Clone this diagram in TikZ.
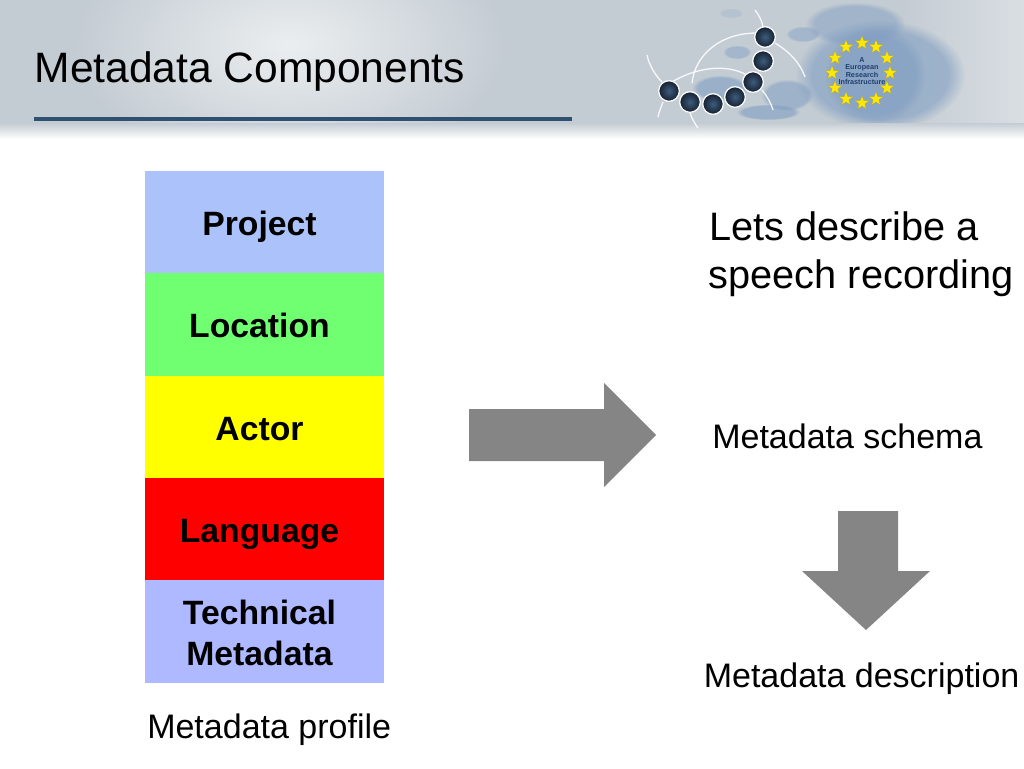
\documentclass[tikz,border=0pt]{standalone}
\usepackage{fontspec}
\setmainfont{Liberation Sans}
\usetikzlibrary{shapes.geometric,fadings}
\definecolor{hbase}{HTML}{C4CCD3}
\definecolor{hlight}{HTML}{EBEEF0}
\definecolor{rulecol}{HTML}{2F5070}
\definecolor{ballcol}{HTML}{3E5C7E}
\definecolor{balldark}{HTML}{15202E}
\definecolor{mapcol}{HTML}{7F9DC2}
\definecolor{arrowcol}{HTML}{858585}
\definecolor{startext}{HTML}{1F3F6E}
\definecolor{bandproject}{HTML}{ACC2FB}
\definecolor{bandlocation}{HTML}{70FF70}
\definecolor{bandactor}{HTML}{FFFF00}
\definecolor{bandlanguage}{HTML}{FF0000}
\definecolor{bandtech}{HTML}{AFB9FF}
\tikzset{
  x=0.75pt,y=-0.75pt,
  band/.style={fill=#1,draw=none,minimum width=179.25pt,minimum height=77pt,inner sep=0pt,outer sep=0pt},
  lab/.style={anchor=base,inner sep=0pt,font=\fontsize{25.3}{30}\selectfont\bfseries},
  txt/.style={anchor=base west,inner sep=0pt,font=\fontsize{25.5}{30}\selectfont},
  big/.style={anchor=base west,inner sep=0pt,font=\fontsize{29.8}{36}\selectfont},
  blockarrow/.style={fill=arrowcol,draw=none},
  eustar/.style={star,star points=5,star point ratio=2.4,fill=yellow!90!orange,draw=yellow!60!black,line width=0.2pt,minimum size=11pt,inner sep=0pt},
  ball/.style={circle,minimum size=15.5pt,inner sep=0pt,draw=white!85!hbase,line width=1pt,inner color=ballcol,outer color=balldark},
  arcline/.style={draw=white,line width=1pt,opacity=0.85},
  maptext/.style={inner sep=0pt,text=startext,font=\fontsize{5.4}{6}\selectfont\bfseries},
  land/.style={fill=mapcol,draw=none,opacity=#1,path fading=circle with fuzzy edge 20 percent}
}
\begin{document}
\begin{tikzpicture}
\useasboundingbox (0,0) rectangle (1024,768);
\fill[white] (0,0) rectangle (1024,768);
% header
\fill[hbase] (0,0) rectangle (1024,123);
\begin{scope}
\clip (0,0) rectangle (1024,123);
\shade[inner color=hlight,outer color=hbase] (290,45) ellipse [x radius=215,y radius=125];
\shade[left color=hbase,right color=hbase!65!white] (900,0) rectangle (1024,123);
\fill[land=0.6] (880,75) ellipse [x radius=85,y radius=55];
\fill[land=0.5] (855,24) ellipse [x radius=50,y radius=22];
\fill[land=0.45] (803,34) ellipse [x radius=17,y radius=8];
\fill[land=0.45] (737,52) ellipse [x radius=14,y radius=7];
\fill[land=0.2] (731,13) ellipse [x radius=12,y radius=5];
\fill[land=0.6] (720,88) ellipse [x radius=28,y radius=13];
\fill[land=0.55] (787,95) ellipse [x radius=26,y radius=16];
\fill[land=0.6] (768,112) ellipse [x radius=32,y radius=8];
\fill[land=0.6] (875,75) ellipse [x radius=50,y radius=48];
\end{scope}
\shade[top color=hbase,bottom color=white] (0,123) rectangle (1024,139);
\draw[arcline] (755,10) .. controls (759,15) and (762,21) .. (763,27);
\draw[arcline] (692,83) .. controls (695,55) and (720,33) .. (757,33);
\draw[arcline] (775,43) .. controls (790,52) and (800,63) .. (805,77);
\draw[arcline] (672,82) .. controls (695,68) and (725,63) .. (747,75);
\draw[arcline] (647,55) .. controls (649,65) and (655,75) .. (662,82);
\draw[arcline] (658,117) .. controls (659,112) and (661,107) .. (663,102);
\draw[arcline] (690,113) .. controls (692,119) and (695,124) .. (698,128);
\draw[arcline] (762,90) .. controls (767,96) and (771,103) .. (773,110);
\node[ball] (b1) at (765,37) {};
\node[ball] (b2) at (763,61) {};
\node[ball] (b3) at (753,82) {};
\node[ball] (b4) at (735,97) {};
\node[ball] (b5) at (713,104) {};
\node[ball] (b6) at (690,102) {};
\node[ball] (b7) at (669,91) {};
\node[eustar] (s1) at (862,43) {};
\node[eustar] (s2) at (876,47) {};
\node[eustar] (s3) at (887,58) {};
\node[eustar] (s4) at (890,73) {};
\node[eustar] (s5) at (887,88) {};
\node[eustar] (s6) at (876,99) {};
\node[eustar] (s7) at (862,103) {};
\node[eustar] (s8) at (846,99) {};
\node[eustar] (s9) at (835,88) {};
\node[eustar] (s10) at (832,73) {};
\node[eustar] (s11) at (835,58) {};
\node[eustar] (s12) at (846,47) {};
\node[maptext] (m1) at (862,60.5) {A};
\node[maptext] (m2) at (862,68) {European};
\node[maptext] (m3) at (862,75) {Research};
\node[maptext] (m4) at (862,82) {Infrastructure};
\node[anchor=base west,inner sep=0pt,font=\fontsize{31.9}{38}\selectfont] (title) at (34.5,82) {Metadata Components};
\coordinate (ruleA) at (34,119);
\coordinate (ruleB) at (572,119);
\draw[rulecol,line width=2.6pt] (ruleA) -- (ruleB);
% stack
\node[band=bandproject] (project) at (264.5,222) {};
\node[band=bandlocation] (location) at (264.5,324.5) {};
\node[band=bandactor] (actor) at (264.5,427) {};
\node[band=bandlanguage] (language) at (264.5,529) {};
\node[band=bandtech] (tech) at (264.5,631.5) {};
\node[lab] (tproject) at (259.5,235) {Project};
\node[lab] (tlocation) at (259.5,337) {Location};
\node[lab] (tactor) at (259.5,440) {Actor};
\node[lab] (tlanguage) at (259.5,542) {Language};
\node[lab] (ttech1) at (259.5,624) {Technical};
\node[lab] (ttech2) at (259.5,665) {Metadata};
\node[txt] (profile) at (147,738) {Metadata profile};
\node[big] (lets1) at (709,240.5) {Lets describe a};
\node[big] (lets2) at (708.5,288.5) {speech recording};
\node[txt] (schema) at (712,448) {Metadata schema};
\node[txt] (description) at (703.5,687) {Metadata description};
\fill[blockarrow] (469,409) -- (604,409) -- (604,383) -- (656,435) -- (604,487) -- (604,461) -- (469,461) -- cycle;
\fill[blockarrow] (838,511) -- (898,511) -- (898,571) -- (930,571) -- (866,630) -- (802,571) -- (838,571) -- cycle;
\end{tikzpicture}
\end{document}
